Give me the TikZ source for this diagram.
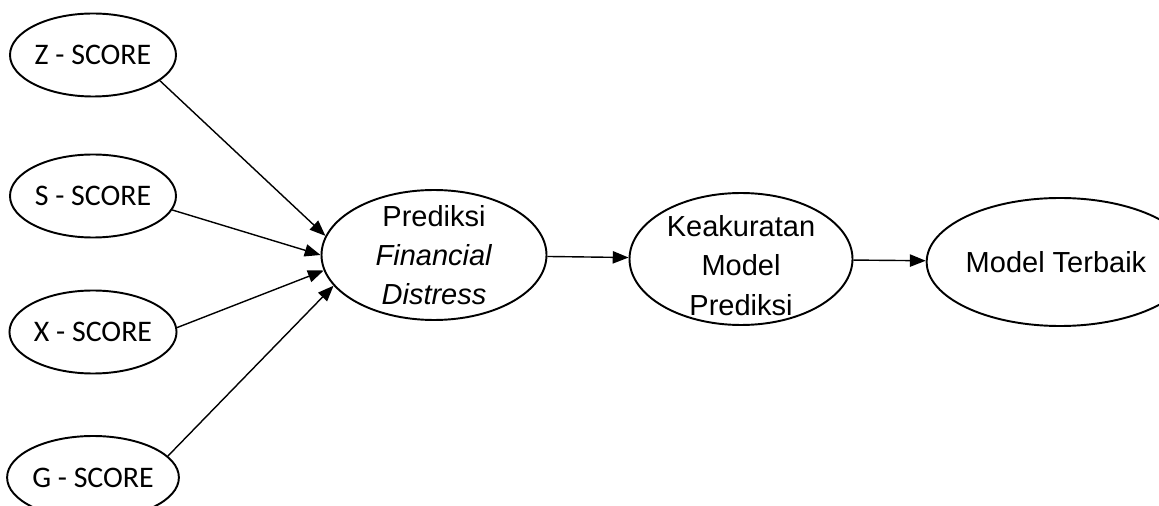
\documentclass[tikz,border=0pt]{standalone}
\usepackage{fontspec}
\setmainfont{Liberation Sans}
\newfontfamily\scorefont{Carlito}
\usepackage{tikz}
\usetikzlibrary{positioning,arrows.meta,shapes.geometric,calc}

\begin{document}
\begin{tikzpicture}[
    scoreStyle/.style={ellipse, draw=black, line width=1.1pt, inner sep=0pt,
        minimum width=3.32cm, minimum height=1.66cm, font=\scorefont\fontsize{17}{20}\selectfont},
    stageStyle/.style={ellipse, draw=black, line width=1.1pt, inner xsep=0pt, inner ysep=-10pt,
        align=center, font=\fontsize{16.5}{22.3}\selectfont},
    flowArrow/.style={-{Triangle[length=9pt, width=7pt]}, line width=0.8pt}
]
    \useasboundingbox (0,0) rectangle (23.18,10.1);

    % Score models
    \node[scoreStyle] (zs) at (1.86, 9.0) {Z - SCORE};
    \node[scoreStyle] (ss) at (1.86, 6.18) {S - SCORE};
    \node[scoreStyle] (xs) at (1.86, 3.46) {X - SCORE};
    \node[scoreStyle] (gs) at (1.86, 0.55) {G - SCORE};

    % Prediction stages
    \node[stageStyle, minimum width=4.5cm, minimum height=2.6cm] (pfd) at (8.68, 5.0) {
        Prediksi\\ \textit{Financial}\\ \textit{Distress}
    };
    \node[stageStyle, minimum width=4.46cm, minimum height=2.64cm, text height=64pt] (ka) at (14.82, 4.92) {
        Keakuratan\\ Model\\ Prediksi
    };
    \node[stageStyle, minimum width=4.6cm, minimum height=2.56cm] (mt) at (21.2, 4.86) {
        Model Terbaik
    };

    % Arrows into the prediction
    \draw[flowArrow] (zs.-21) -- (pfd.170);
    \draw[flowArrow] (ss.-10) -- (pfd.180);
    \draw[flowArrow] (xs.3) -- (pfd.188);
    \draw[flowArrow] (gs.16) -- (pfd.197);

    % Arrows along the chain
    \draw[flowArrow] (pfd) -- (ka);
    \draw[flowArrow] (ka) -- (mt);
\end{tikzpicture}
\end{document}
